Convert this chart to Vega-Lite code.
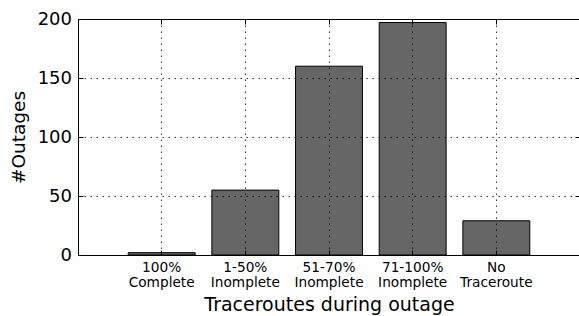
{
  "$schema": "https://vega.github.io/schema/vega-lite/v6.json",
  "width": 502,
  "height": 236,
  "autosize": {"type": "none"},
  "padding": {"left": 78, "top": 19, "right": 0, "bottom": 61},
  "background": "white",
  "config": {
    "view": {"stroke": "black", "strokeWidth": 1},
    "font": "DejaVu Sans",
    "axis": {
      "labelFont": "DejaVu Sans",
      "titleFont": "DejaVu Sans",
      "titleFontWeight": "normal",
      "labelColor": "black",
      "titleColor": "black",
      "tickColor": "black",
      "domainColor": "black",
      "gridColor": "black",
      "gridDash": [1.5, 4.5],
      "gridOpacity": 0.8,
      "gridWidth": 1,
      "tickSize": -5,
      "tickWidth": 1,
      "domainWidth": 1
    }
  },
  "data": {
    "values": [
      {"category": "100%\nComplete", "outages": 2},
      {"category": "1-50%\nInomplete", "outages": 55},
      {"category": "51-70%\nInomplete", "outages": 160},
      {"category": "71-100%\nInomplete", "outages": 197},
      {"category": "No\nTraceroute", "outages": 29}
    ]
  },
  "layer": [
    {
      "mark": {"type": "bar", "fill": "#666666", "stroke": "black", "strokeWidth": 1},
      "encoding": {
        "x": {
          "field": "category",
          "type": "nominal",
          "sort": null,
          "scale": {"paddingInner": 0.2, "paddingOuter": 0.6},
          "axis": {
            "orient": "bottom",
            "title": "Traceroutes during outage",
            "titleFontSize": 19,
            "titlePadding": 7,
            "labelAngle": 0,
            "labelFontSize": 13.7,
            "labelLineHeight": 15,
            "labelPadding": 10,
            "labelExpr": "split(datum.label, '\\n')",
            "grid": true,
            "zindex": 1
          }
        },
        "y": {
          "field": "outages",
          "type": "quantitative",
          "scale": {"domain": [0, 200], "nice": false},
          "axis": {
            "orient": "left",
            "title": "#Outages",
            "titleFontSize": 18.5,
            "titlePadding": 9,
            "values": [0, 50, 100, 150, 200],
            "labelFontSize": 18,
            "labelPadding": 11.5,
            "grid": true,
            "zindex": 1
          }
        }
      }
    },
    {
      "mark": {"type": "bar", "fillOpacity": 0, "strokeOpacity": 0},
      "encoding": {
        "x": {
          "field": "category",
          "type": "nominal",
          "sort": null,
          "axis": {"orient": "top", "title": null, "labels": false, "grid": false, "domain": false, "zindex": 1}
        },
        "y": {
          "field": "outages",
          "type": "quantitative",
          "axis": {"orient": "right", "title": null, "labels": false, "grid": false, "domain": false, "values": [0, 50, 100, 150, 200], "zindex": 1}
        }
      }
    }
  ],
  "resolve": {"axis": {"x": "independent", "y": "independent"}}
}
